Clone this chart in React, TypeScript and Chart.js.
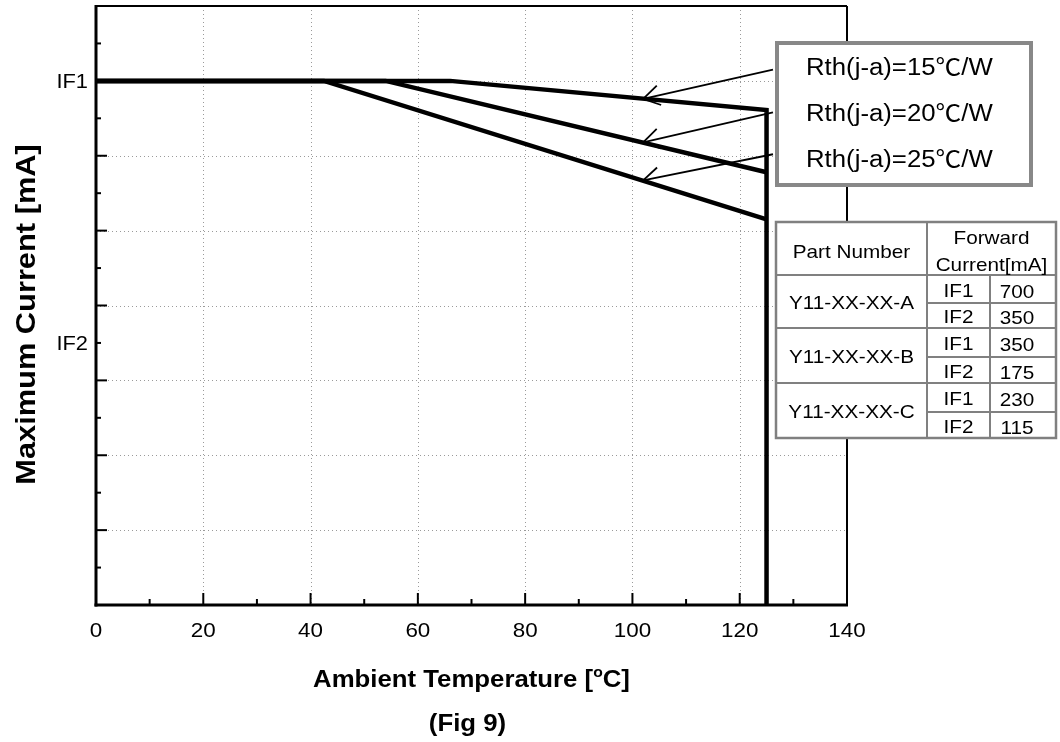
import React, { useEffect, useRef } from 'react';
import { Chart, registerables } from 'chart.js';

Chart.register(...registerables);

// ---------- data ----------
const xTickValues = [0, 20, 40, 60, 80, 100, 120, 140];
const yTickValues = [700, 350];
const yTickNames = ['IF1', 'IF2'];

const seriesLabels = ['Rth(j-a)=15℃/W', 'Rth(j-a)=20℃/W', 'Rth(j-a)=25℃/W'];
const temps15 = [0, 66, 125, 125];
const current15 = [700, 700, 661, 0];
const temps20 = [0, 54, 125];
const current20 = [700, 700, 578];
const temps25 = [0, 42.5, 125];
const current25 = [700, 700, 515];

// arrows from the legend box to each curve (data units)
const arrowFromX = [126.2, 126.2, 126.2];
const arrowFromY = [715, 658, 602];
const arrowToX = [102, 102, 102];
const arrowToY = [676, 618, 567];

const partNumbers = ['Y11-XX-XX-A', 'Y11-XX-XX-B', 'Y11-XX-XX-C'];
const currentIF1 = [700, 350, 230];
const currentIF2 = [350, 175, 115];
const tableHeaders = ['Part Number', 'Forward', 'Current[mA]'];

const xTitleParts = ['Ambient Temperature [', 'o', 'C]'];
const yTitle = 'Maximum Current [mA]';
const figCaption = '(Fig 9)';

// ---------- helpers ----------
const SX = 1.12;
const FONT = "'Liberation Sans', Arial, 'Noto Sans CJK SC', sans-serif";

function drawText(
  ctx: CanvasRenderingContext2D,
  s: string,
  x: number,
  y: number,
  font: string,
  align: CanvasTextAlign = 'left',
  rot = 0
) {
  ctx.save();
  ctx.translate(x, y);
  if (rot) ctx.rotate(rot);
  ctx.scale(SX, 1);
  ctx.font = font;
  ctx.textAlign = align;
  ctx.textBaseline = 'alphabetic';
  ctx.fillStyle = '#000';
  ctx.fillText(s, 0, 0);
  ctx.restore();
}

function line(ctx: CanvasRenderingContext2D, x1: number, y1: number, x2: number, y2: number) {
  ctx.beginPath();
  ctx.moveTo(x1, y1);
  ctx.lineTo(x2, y2);
  ctx.stroke();
}

const gridPlugin = {
  id: 'dottedGrid',
  beforeDatasetsDraw(chart: any) {
    const { ctx, chartArea: a, scales } = chart;
    const xs = scales.x, ys = scales.y;
    ctx.save();
    ctx.strokeStyle = '#9a9a9a';
    ctx.lineWidth = 1;
    ctx.setLineDash([1, 3]);
    for (let v = 20; v < 140; v += 20) {
      const px = Math.round(xs.getPixelForValue(v)) + 0.5;
      line(ctx, px, a.top, px, a.bottom);
    }
    for (let v = 100; v < 800; v += 100) {
      const py = Math.round(ys.getPixelForValue(v)) + 0.5;
      line(ctx, a.left, py, a.right, py);
    }
    ctx.restore();
  },
};

const overlayPlugin = {
  id: 'overlay',
  afterDatasetsDraw(chart: any) {
    const { ctx, chartArea: a, scales } = chart;
    const xs = scales.x, ys = scales.y;
    ctx.save();
    ctx.strokeStyle = '#000';
    ctx.setLineDash([]);
    // frame
    ctx.lineWidth = 2;
    line(ctx, a.left, a.top, a.right, a.top);
    line(ctx, a.right, a.top, a.right, a.bottom);
    ctx.lineWidth = 3;
    line(ctx, a.left, a.top - 1, a.left, a.bottom + 1.5);
    line(ctx, a.left - 1.5, a.bottom, a.right + 1, a.bottom);
    // inward ticks
    ctx.lineWidth = 2;
    for (let v = 10; v < 140; v += 10) {
      const px = xs.getPixelForValue(v);
      const len = v % 20 === 0 ? 12 : 6;
      line(ctx, px, a.bottom, px, a.bottom - len);
    }
    for (let v = 50; v < 800; v += 50) {
      const py = ys.getPixelForValue(v);
      const len = v % 100 === 0 ? 11 : 5;
      line(ctx, a.left, py, a.left + len, py);
    }
    // arrows
    ctx.lineWidth = 1.8;
    for (let i = 0; i < arrowFromX.length; i++) {
      const sx = xs.getPixelForValue(arrowFromX[i]);
      const sy = ys.getPixelForValue(arrowFromY[i]);
      const tx = xs.getPixelForValue(arrowToX[i]);
      const ty = ys.getPixelForValue(arrowToY[i]);
      line(ctx, sx, sy, tx, ty);
      const ang = Math.atan2(sy - ty, sx - tx);
      const L = 19;
      for (const d of [-0.55, 0.55]) {
        line(ctx, tx, ty, tx + L * Math.cos(ang + d), ty + L * Math.sin(ang + d));
      }
    }
    ctx.restore();
  },
  afterDraw(chart: any) {
    const { ctx, chartArea: a, scales } = chart;
    const xs = scales.x, ys = scales.y;
    ctx.save();
    // tick labels
    xTickValues.forEach((v) => {
      drawText(ctx, String(v), xs.getPixelForValue(v), 637, `20px ${FONT}`, 'center');
    });
    yTickValues.forEach((v, i) => {
      drawText(ctx, yTickNames[i], a.left - 8, ys.getPixelForValue(v) + 7, `19.5px ${FONT}`, 'right');
    });

    // legend box
    ctx.fillStyle = '#fff';
    ctx.fillRect(776, 42, 256, 143);
    ctx.strokeStyle = '#888';
    ctx.lineWidth = 4;
    ctx.strokeRect(777, 43, 254, 142);
    seriesLabels.forEach((s, i) => {
      drawText(ctx, s, 806, 75 + i * 46, `23px ${FONT}`, 'left');
    });

    // table
    const L = 776, R = 1056, T = 222, B = 438;
    const c1 = 927, c2 = 990;
    const rowLines = [275, 303, 328, 357, 383, 412, 438];
    ctx.fillStyle = '#fff';
    ctx.fillRect(L, T, R - L, B - T);
    ctx.strokeStyle = '#808080';
    ctx.lineWidth = 2;
    line(ctx, L, rowLines[0], R, rowLines[0]);
    line(ctx, c1, T, c1, B);
    line(ctx, c2, rowLines[0], c2, B);
    for (let r = 1; r < rowLines.length - 1; r++) {
      line(ctx, r % 2 === 1 ? c1 : L, rowLines[r], R, rowLines[r]);
    }
    ctx.lineWidth = 2.5;
    ctx.strokeRect(L, T, R - L, B - T);

    const tf = `18.5px ${FONT}`;
    drawText(ctx, tableHeaders[0], (L + c1) / 2, 258, tf, 'center');
    drawText(ctx, tableHeaders[1], (c1 + R) / 2, 244, tf, 'center');
    drawText(ctx, tableHeaders[2], (c1 + R) / 2, 271, tf, 'center');
    partNumbers.forEach((p, i) => {
      const top = rowLines[i * 2];
      const mid = rowLines[i * 2 + 1];
      const bot = rowLines[i * 2 + 2];
      drawText(ctx, p, (L + c1) / 2, (top + bot) / 2 + 7.5, tf, 'center');
      drawText(ctx, 'IF1', (c1 + c2) / 2, (top + mid) / 2 + 7.5, tf, 'center');
      drawText(ctx, 'IF2', (c1 + c2) / 2, (mid + bot) / 2 + 7.5, tf, 'center');
      drawText(ctx, String(currentIF1[i]), 1017, (top + mid) / 2 + 8.5, tf, 'center');
      drawText(ctx, String(currentIF2[i]), 1017, (mid + bot) / 2 + 8.5, tf, 'center');
    });

    // axis titles
    const bf = `bold 23px ${FONT}`;
    const sf = `bold 14px ${FONT}`;
    ctx.font = bf;
    const w1 = ctx.measureText(xTitleParts[0]).width * SX;
    const w3 = ctx.measureText(xTitleParts[2]).width * SX;
    ctx.font = sf;
    const w2 = ctx.measureText(xTitleParts[1]).width * SX;
    const cx = (a.left + a.right) / 2;
    let x0 = cx - (w1 + w2 + w3) / 2;
    drawText(ctx, xTitleParts[0], x0, 687, bf, 'left');
    drawText(ctx, xTitleParts[1], x0 + w1, 677, sf, 'left');
    drawText(ctx, xTitleParts[2], x0 + w1 + w2, 687, bf, 'left');
    drawText(ctx, figCaption, cx - 4, 731, bf, 'center');

    drawText(ctx, yTitle, 35, (a.top + a.bottom) / 2 + 9, `bold 27.5px ${FONT}`, 'center', -Math.PI / 2);
    ctx.restore();
  },
};

export default function App() {
  const ref = useRef<HTMLCanvasElement | null>(null);
  useEffect(() => {
    if (!ref.current) return;
    const mk = (xs: number[], ys: number[]) => xs.map((x, i) => ({ x, y: ys[i] }));
    const base = {
      borderColor: '#000',
      backgroundColor: '#000',
      borderWidth: 4.5,
      pointRadius: 0,
      fill: false,
      tension: 0,
      borderCapStyle: 'butt' as const,
      borderJoinStyle: 'miter' as const,
    };
    const chart = new Chart(ref.current, {
      type: 'line',
      data: {
        datasets: [
          { ...base, label: seriesLabels[0], data: mk(temps15, current15) },
          { ...base, label: seriesLabels[1], data: mk(temps20, current20) },
          { ...base, label: seriesLabels[2], data: mk(temps25, current25) },
        ],
      },
      options: {
        responsive: false,
        animation: false,
        devicePixelRatio: 1,
        events: [],
        layout: { padding: { left: 96, right: 213, top: 6, bottom: 137 } },
        scales: {
          x: { type: 'linear', min: 0, max: 140, display: false },
          y: { type: 'linear', min: 0, max: 800, display: false },
        },
        plugins: { legend: { display: false }, tooltip: { enabled: false } },
      },
      plugins: [gridPlugin, overlayPlugin],
    });
    return () => chart.destroy();
  }, []);
  return (
    <div style={{ position: 'absolute', left: 0, top: 0, width: 1060, height: 742, background: '#fff' }}>
      <canvas ref={ref} width={1060} height={742} style={{ display: 'block' }} />
    </div>
  );
}
